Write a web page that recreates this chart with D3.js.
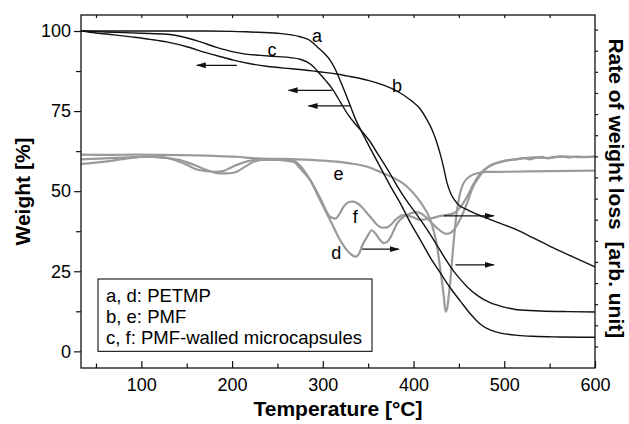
<!DOCTYPE html>
<html>
<head>
<meta charset="utf-8">
<script src="https://cdn.jsdelivr.net/npm/d3@7"></script>
<style>
  body { margin: 0; background: #fff; }
  svg { display: block; }
  text { font-family: "Liberation Sans", Arial, Helvetica, sans-serif; fill: #000; }
</style>
</head>
<body>
<svg id="chart" width="629" height="424"></svg>
<script>
// ---- TG curves: [temperature °C, weight %] ----
const tgA = [[33.5,100],[60,100],[100,100],[150,100],[200,99.9],[220,99.7],[250,99.3],[275,98.2],[285,97.2],[294,95.0],[301,93.2],[308,90.9],[314,87.9],[319,84.6],[325,80.5],[330,76.9],[336,72.5],[341,69.6],[350,64.6],[362,58.2],[374.5,51.6],[385.5,46.2],[396,40.4],[407.6,34.7],[418,29.5],[429.7,24.4],[440,20.0],[451.8,15.6],[463,11.6],[474,8.4],[485,6.6],[496,5.7],[515,5.0],[532,4.7],[560,4.5],[600,4.4]];
const tgB = [[33.5,100],[50,99.4],[70,98.8],[91,98.1],[110,97.4],[128,96.6],[150,95.1],[172,93.2],[190,91.8],[201.5,90.9],[220,89.8],[238,89.0],[258,88.4],[275,88.0],[295,87.3],[315,86.6],[330,85.8],[350,84.6],[367,83.1],[382,81.2],[397,78.4],[407,75.8],[415,72.2],[421,68.8],[426,64.9],[430,61.0],[433,57.6],[437,52.5],[441,49.3],[448,46.2],[460,44.1],[477,42.0],[495,40.0],[514,37.9],[532,35.4],[551,32.7],[575,29.6],[600,26.4]];
const tgC = [[33.5,100],[60,99.7],[100,99.3],[128,99.0],[145,98.2],[165,96.6],[183,94.9],[201.5,93.5],[215,92.8],[231,92.4],[250,92.0],[264,91.7],[275,91.2],[283,90.3],[290,88.8],[295,87.2],[303,84.6],[311.6,81.5],[320,77.5],[328,73.8],[336,70.9],[343,68.7],[351,65.9],[362,61.0],[372,56.5],[382,51.6],[392,47.2],[404,42.5],[415,38.0],[425,33.5],[433,29.8],[441,26.3],[450,23.0],[459,20.2],[471,17.3],[485,15.1],[500,13.8],[514,13.0],[540,12.6],[570,12.4],[600,12.3]];

// ---- DTG curves: [temperature °C, rate of weight loss, arb. unit] ----
const dtgD = [[33.5,8.64],[60,8.75],[85,8.9],[106,8.98],[125,8.95],[135,8.85],[150,8.6],[161,8.38],[172,8.3],[180,8.27],[190,8.3],[200,8.5],[212,8.7],[224,8.82],[245,8.84],[268,8.79],[275,8.55],[286,7.88],[297,6.93],[308,5.99],[319,5.04],[330,4.4],[336,4.25],[340,4.4],[343,4.73],[349,5.2],[354,5.5],[358,5.35],[362,5.1],[367,4.89],[371,4.95],[375,5.2],[382,5.83],[389,6.14],[396.6,6.3],[402,6.36],[408,6.3],[415,6.07],[426,5.6],[432,5.4],[437,5.33],[443,5.45],[448,5.75],[454,6.25],[459,6.78],[465,7.5],[470,7.88],[476,8.25],[481,8.45],[488,8.62],[496,8.74],[510,8.85],[520,8.9],[532,8.95],[545,8.92],[555,8.97],[570,8.99],[585,8.96],[600,8.98]];
const dtgE = [[33.5,9.08],[60,9.07],[100,9.08],[150,9.05],[180,9.02],[205,8.98],[227,8.9],[250,8.88],[271,8.86],[300,8.8],[330,8.67],[349,8.51],[367,8.19],[378,7.98],[385.5,7.8],[393,7.56],[402,7.15],[411,6.62],[418,6.05],[422,5.5],[426,4.73],[429,3.8],[431.6,3.0],[433.5,2.3],[435.2,1.65],[437,1.8],[438.8,2.4],[440.7,3.15],[442.5,4.1],[444.4,5.04],[448,6.46],[451,7.2],[455,7.72],[462,8.05],[470,8.2],[481,8.26],[503,8.27],[550,8.3],[600,8.32]];
const dtgF = [[33.5,8.86],[60,8.9],[85,8.95],[106,8.98],[125,8.93],[142.7,8.82],[158,8.6],[172,8.35],[182,8.22],[190.5,8.19],[198,8.2],[205,8.27],[214,8.5],[223.6,8.74],[238,8.86],[255,8.82],[268,8.74],[275,8.43],[286,7.88],[297,7.03],[308,6.14],[314,6.05],[318,6.25],[323,6.62],[330,6.85],[334,6.86],[338,6.78],[343,6.6],[349,6.3],[355,6.0],[360,5.75],[366,5.62],[371,5.64],[376,5.8],[380,5.99],[389,6.22],[397,6.15],[407.6,5.99],[418,6.05],[429.7,6.18],[444,6.3],[452,6.62],[459,7.09],[466.5,7.72],[472,8.1],[477.5,8.35],[486,8.6],[496,8.74],[505,8.82],[515,8.87],[522,8.92],[528,8.86],[535,8.94],[542,8.97],[548,8.9],[556,8.96],[563,9.0],[572,8.95],[580,8.99],[590,8.97],[600,9.0]];

// ---- axis ticks ----
const xTicks = [100, 200, 300, 400, 500, 600];
const xMinorTicks = [50, 150, 250, 350, 450, 550];
const topTicks = [50, 100, 150, 200, 250, 300, 350, 400, 450, 500, 550];
const yTicks = [0, 25, 50, 75, 100];
const yMinorTicks = [12.5, 37.5, 62.5, 87.5];
const rightTicks = [0,1,2,3,4,5,6,7,8,9,10,11,12,13,14,15];

// ---- curve letters [text, temperature, weight] ----
const curveLetters = [["a",293.6,98.7],["c",243.9,94.2],["b",381.9,83.1],["e",317.4,55.6],["f",335.9,42.1],["d",314.9,30.7]];

// ---- arrows pointing to the relevant axis [from °C, to °C, weight] ----
const arrows = [[205.3,161.1,89.3],[310.2,262.3,81.5],[330.4,284.3,76.6],[433.4,488.5,42.3],[343.3,383.7,31.9],[446.2,488.5,27.0]];

const legendLines = ["a, d: PETMP", "b, e: PMF", "c, f: PMF-walled microcapsules"];

// ---- layout ----
const svg = d3.select("#chart");
const W = 629, H = 424;
const m = { top: 15, right: 34, bottom: 56, left: 81 };
const pw = W - m.left - m.right, ph = H - m.top - m.bottom;

const x = d3.scaleLinear().domain([33.5, 600]).range([m.left, m.left + pw]);
const y = d3.scaleLinear().domain([-5.2, 105]).range([m.top + ph, m.top]);
const yR = d3.scaleLinear().domain([-1.02, 15.69]).range([m.top + ph, m.top]);

const tickFont = 18;

// DTG (grey) curves
const lineR = d3.line().x(d => x(d[0])).y(d => yR(d[1])).curve(d3.curveMonotoneX);
[dtgD, dtgE, dtgF].forEach(s => {
  svg.append("path").attr("d", lineR(s)).attr("fill", "none")
    .attr("stroke", "#9a9a9a").attr("stroke-width", 2.2).attr("stroke-linejoin", "round");
});

// TG (black) curves
const lineL = d3.line().x(d => x(d[0])).y(d => y(d[1])).curve(d3.curveMonotoneX);
[tgA, tgB, tgC].forEach(s => {
  svg.append("path").attr("d", lineL(s)).attr("fill", "none")
    .attr("stroke", "#111").attr("stroke-width", 1.4).attr("stroke-linejoin", "round");
});

// arrows
svg.append("defs").append("marker")
  .attr("id", "head").attr("viewBox", "0 -4 10 8")
  .attr("refX", 9).attr("refY", 0)
  .attr("markerWidth", 10).attr("markerHeight", 8)
  .attr("markerUnits", "userSpaceOnUse").attr("orient", "auto")
  .append("path").attr("d", "M0,-3L10,0L0,3Z").attr("fill", "#111");
arrows.forEach(a => {
  svg.append("line")
    .attr("x1", x(a[0])).attr("x2", x(a[1]))
    .attr("y1", y(a[2])).attr("y2", y(a[2]))
    .attr("stroke", "#111").attr("stroke-width", 1.2)
    .attr("marker-end", "url(#head)");
});

// curve letters
curveLetters.forEach(c => {
  svg.append("text").attr("x", x(c[1])).attr("y", y(c[2]))
    .attr("dy", "0.36em").attr("text-anchor", "middle")
    .attr("font-size", 18).text(c[0]);
});

// legend
const lg = svg.append("g");
lg.append("rect").attr("x", 98).attr("y", 279).attr("width", 274).attr("height", y(0) - 279)
  .attr("fill", "#fff").attr("stroke", "#111").attr("stroke-width", 1.1);
legendLines.forEach((t, i) => {
  lg.append("text").attr("x", 106).attr("y", 302 + i * 21)
    .attr("font-size", 18.5).text(t);
});

// frame
svg.append("rect").attr("x", m.left).attr("y", m.top).attr("width", pw).attr("height", ph)
  .attr("fill", "none").attr("stroke", "#111").attr("stroke-width", 1.3);

function styleAxis(g) {
  g.select(".domain").remove();
  g.selectAll("line").attr("stroke", "#111").attr("stroke-width", 1.2);
  g.selectAll("text").attr("font-size", tickFont).attr("fill", "#000")
    .attr("font-family", "Liberation Sans, Arial, sans-serif");
}

// bottom axis (ticks point inward)
svg.append("g").attr("transform", `translate(0,${m.top + ph})`)
  .call(d3.axisBottom(x).tickValues(xTicks).tickSizeInner(-7).tickSizeOuter(0).tickPadding(10))
  .call(styleAxis);
svg.append("g").attr("transform", `translate(0,${m.top + ph})`)
  .call(d3.axisBottom(x).tickValues(xMinorTicks).tickSizeInner(-4.5).tickSizeOuter(0).tickFormat(""))
  .call(styleAxis);

// top axis (short inward ticks)
svg.append("g").attr("transform", `translate(0,${m.top})`)
  .call(d3.axisTop(x).tickValues(topTicks).tickSizeInner(-3).tickSizeOuter(0).tickFormat(""))
  .call(styleAxis);

// left axis (ticks point outward)
svg.append("g").attr("transform", `translate(${m.left},0)`)
  .call(d3.axisLeft(y).tickValues(yTicks).tickSizeInner(7).tickSizeOuter(0).tickPadding(3))
  .call(styleAxis);
svg.append("g").attr("transform", `translate(${m.left},0)`)
  .call(d3.axisLeft(y).tickValues(yMinorTicks).tickSizeInner(5).tickSizeOuter(0).tickFormat(""))
  .call(styleAxis);

// right axis (short outward ticks, no labels)
svg.append("g").attr("transform", `translate(${m.left + pw},0)`)
  .call(d3.axisRight(yR).tickValues(rightTicks).tickSizeInner(3).tickSizeOuter(0).tickFormat(""))
  .call(styleAxis);

// axis titles
svg.append("text").attr("x", m.left + pw / 2).attr("y", 416)
  .attr("text-anchor", "middle").attr("font-size", 21).attr("font-weight", "bold")
  .text("Temperature [°C]");
svg.append("text").attr("transform", `translate(30,${m.top + ph / 2}) rotate(-90)`)
  .attr("text-anchor", "middle").attr("font-size", 21).attr("font-weight", "bold")
  .text("Weight [%]");
svg.append("text").attr("transform", `translate(609,${(36.7 + 340) / 2}) rotate(90)`)
  .attr("text-anchor", "middle").attr("font-size", 21).attr("font-weight", "bold")
  .attr("xml:space", "preserve").style("white-space", "pre")
  .text("Rate of weight loss  [arb. unit]");
</script>
</body>
</html>
